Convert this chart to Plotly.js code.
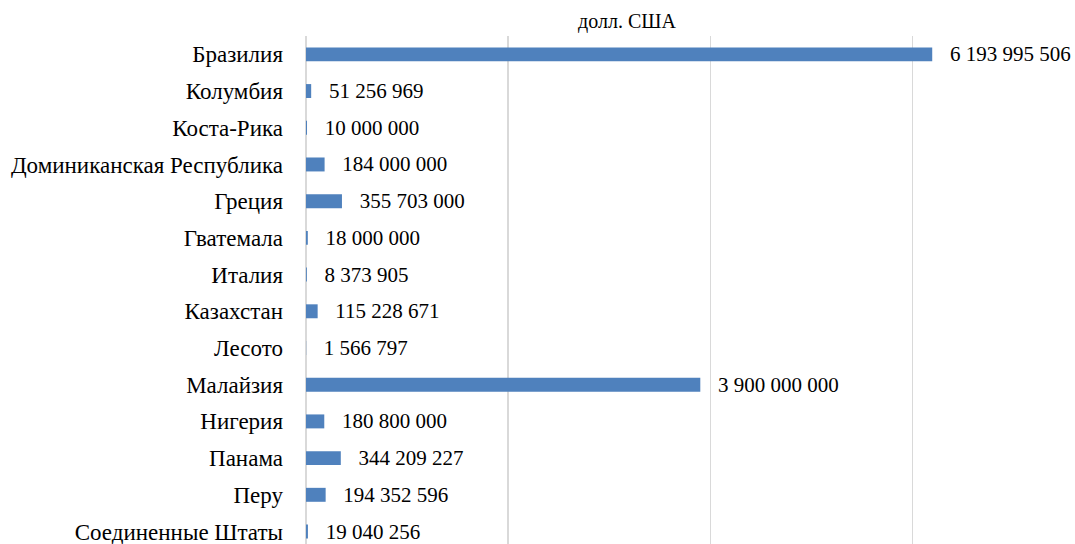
<!DOCTYPE html>
<html>
<head>
<meta charset="utf-8">
<script src="https://cdn.plot.ly/plotly-3.0.1.min.js"></script>
<style>html,body{margin:0;padding:0;background:#fff;}#chart{width:1075px;height:544px;}</style>
</head>
<body>
<div id="chart"></div>
<script>
const countries = ["Бразилия","Колумбия","Коста-Рика","Доминиканская Республика","Греция","Гватемала","Италия","Казахстан","Лесото","Малайзия","Нигерия","Панама","Перу","Соединенные Штаты"];
const amounts = [6193995506,51256969,10000000,184000000,355703000,18000000,8373905,115228671,1566797,3900000000,180800000,344209227,194352596,19040256];
const axisTitle = "долл. США";

const serif = "'Liberation Serif', 'Times New Roman', serif";

const trace = {
  type: "bar",
  orientation: "h",
  y: countries,
  x: amounts,
  width: 0.38,
  marker: {color: "#4F81BD"},
  texttemplate: "\u00a0\u00a0\u2009%{x:,.0f}",
  textposition: "outside",
  constraintext: "none",
  cliponaxis: false,
  textfont: {family: serif, size: 21, color: "#000"},
  hoverinfo: "none"
};

const layout = {
  width: 1075, height: 544,
  margin: {l: 306, r: 127, t: 36, b: 0, pad: 0},
  separators: ", ",
  paper_bgcolor: "#fff", plot_bgcolor: "#fff",
  showlegend: false,
  font: {family: serif, color: "#000"},
  xaxis: {
    range: [0, 6.35e9],
    tickvals: [0, 2e9, 4e9, 6e9],
    showticklabels: false,
    showgrid: true, gridcolor: "#D9D9D9", gridwidth: 1.5,
    zeroline: true, zerolinecolor: "#D9D9D9", zerolinewidth: 1.5,
    side: "top",
    title: {text: axisTitle, font: {family: serif, size: 20, color: "#000"}, standoff: 1}
  },
  yaxis: {
    type: "category",
    categoryorder: "array", categoryarray: countries,
    range: [13.34, -0.5],
    showgrid: false, zeroline: false, showline: false,
    ticks: "", ticklabelstandoff: 22,
    tickfont: {family: serif, size: 23, color: "#000"}
  }
};

Plotly.newPlot("chart", [trace], layout, {staticPlot: true, displayModeBar: false});
</script>
</body>
</html>
